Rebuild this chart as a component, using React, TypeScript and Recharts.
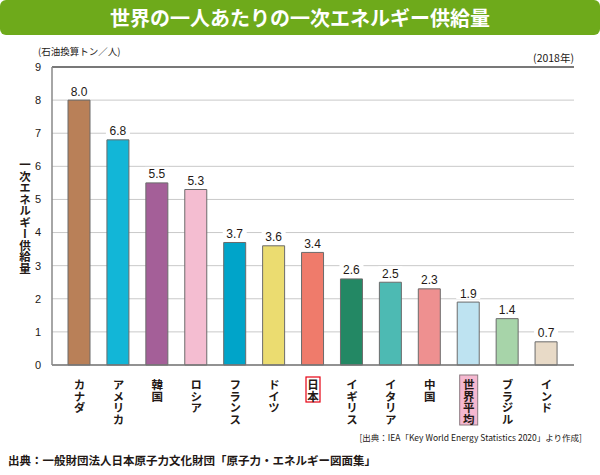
import React from "react";
import {
  BarChart,
  Bar,
  Cell,
  XAxis,
  YAxis,
  CartesianGrid,
  ReferenceLine,
  LabelList,
} from "recharts";

// ── Data ───────────────────────────────────────────────────────────────────

const categories = [
  "カナダ",
  "アメリカ",
  "韓国",
  "ロシア",
  "フランス",
  "ドイツ",
  "日本",
  "イギリス",
  "イタリア",
  "中国",
  "世界平均",
  "ブラジル",
  "インド",
];

const values = [8.0, 6.8, 5.5, 5.3, 3.7, 3.6, 3.4, 2.6, 2.5, 2.3, 1.9, 1.4, 0.7];

const barColors = [
  "#b98058",
  "#12b6d7",
  "#a45f98",
  "#f4bdd1",
  "#00a4c9",
  "#ebdc70",
  "#ef7b6b",
  "#238864",
  "#4dbab3",
  "#ee9090",
  "#bee3f1",
  "#a7d4a9",
  "#e8dac7",
];

const yTicks = [0, 1, 2, 3, 4, 5, 6, 7, 8, 9];

const chartData = categories.map((name, i) => ({ name, value: values[i] }));

// ── Styles ─────────────────────────────────────────────────────────────────

const jpFont = '"Noto Sans CJK JP", "Noto Sans", sans-serif';
const numFont = '"Liberation Sans", Arial, sans-serif';
const textColor = "#231815";

// ── Custom tick: vertical Japanese labels ─────────────────────────────────

function VerticalTick({ x, y, payload }: any) {
  const label: string = payload.value;
  const chars = label.length;
  const pitch = 12;
  return (
    <g>
      {label === "日本" && (
        <rect
          x={x - 7}
          y={y + 4}
          width={14}
          height={chars * pitch + 1}
          fill="#fff"
          stroke="#e60012"
          strokeWidth={1.2}
        />
      )}
      {label === "世界平均" && (
        <rect
          x={x - 9}
          y={y + 2}
          width={18}
          height={chars * pitch + 2}
          fill="#f5b8d0"
          stroke="#8c7a80"
          strokeWidth={1}
        />
      )}
      <text
        x={x}
        y={y + 6}
        style={{ writingMode: "vertical-rl" }}
        fontFamily={jpFont}
        fontSize={11.5}
        fontWeight={700}
        fill={textColor}
      >
        {label}
      </text>
    </g>
  );
}

// ── Value label with white backing ─────────────────────────────────────────

function ValueLabel({ x, y, width, value }: any) {
  const cx = x + width / 2;
  return (
    <g>
      <rect x={cx - 12} y={y - 16} width={24} height={13} fill="#fff" />
      <text
        x={cx}
        y={y - 4.5}
        textAnchor="middle"
        fontFamily={numFont}
        fontSize={12}
        fill={textColor}
      >
        {Number(value).toFixed(1)}
      </text>
    </g>
  );
}

// ── Main Component ─────────────────────────────────────────────────────────

export default function App() {
  return (
    <div
      style={{
        position: "absolute",
        left: 0,
        top: 0,
        width: 600,
        height: 475,
        background: "#fff",
        overflow: "hidden",
      }}
    >
      <BarChart
        width={600}
        height={475}
        data={chartData}
        margin={{ top: 67, right: 26, bottom: 30, left: 0 }}
      >
        <CartesianGrid
          yAxisId="l"
          vertical={false}
          stroke="#c9c9c9"
          strokeWidth={1}
        />
        <XAxis
          dataKey="name"
          interval={0}
          height={80}
          padding={{ left: 8, right: 8 }}
          tickLine={false}
          axisLine={{ stroke: "#777", strokeWidth: 1.5 }}
          tick={<VerticalTick />}
        />
        <YAxis
          yAxisId="l"
          width={52}
          domain={[0, 9]}
          ticks={yTicks}
          interval={0}
          tickLine={false}
          tickMargin={5}
          axisLine={{ stroke: "#888", strokeWidth: 1.5 }}
          tick={{ fill: textColor, fontSize: 11, fontFamily: numFont }}
        />
        <YAxis
          yAxisId="r"
          orientation="right"
          width={0}
          domain={[0, 9]}
          tick={false}
          tickLine={false}
          axisLine={{ stroke: "#999", strokeWidth: 1.5 }}
        />
        <ReferenceLine yAxisId="l" y={9} stroke="#555" strokeWidth={1.3} />
        <Bar
          yAxisId="l"
          dataKey="value"
          barSize={22}
          stroke="#6b6b6b"
          strokeWidth={1}
          isAnimationActive={false}
        >
          {chartData.map((d, i) => (
            <Cell key={d.name} fill={barColors[i]} />
          ))}
          <LabelList dataKey="value" content={<ValueLabel />} />
        </Bar>
      </BarChart>

      {/* Title banner */}
      <div
        style={{
          position: "absolute",
          left: 0,
          top: 0,
          width: 600,
          height: 35,
          background: "#6eaa1b",
          borderRadius: 6,
          color: "#fff",
          fontFamily: jpFont,
          fontWeight: 700,
          fontSize: 20,
          lineHeight: "35px",
          textAlign: "center",
        }}
      >
        世界の一人あたりの一次エネルギー供給量
      </div>

      {/* Unit and year */}
      <div
        style={{
          position: "absolute",
          left: 38,
          top: 44,
          fontFamily: jpFont,
          fontSize: 9.5,
          color: textColor,
        }}
      >
        (石油換算トン／人)
      </div>
      <div
        style={{
          position: "absolute",
          right: 26,
          top: 50,
          fontFamily: jpFont,
          fontSize: 10.5,
          color: textColor,
        }}
      >
        (2018年)
      </div>

      {/* Y axis title */}
      <div
        style={{
          position: "absolute",
          left: 17,
          top: 159,
          writingMode: "vertical-rl",
          fontFamily: jpFont,
          fontSize: 11.5,
          fontWeight: 700,
          color: textColor,
        }}
      >
        一次エネルギー供給量
      </div>

      {/* Source notes */}
      <div
        style={{
          position: "absolute",
          right: 18,
          top: 431,
          fontFamily: jpFont,
          fontSize: 8.5,
          color: textColor,
        }}
      >
        [出典：IEA「Key World Energy Statistics 2020」より作成]
      </div>
      <div
        style={{
          position: "absolute",
          left: 8,
          top: 452,
          fontFamily: jpFont,
          fontSize: 11.5,
          fontWeight: 700,
          color: textColor,
        }}
      >
        出典：一般財団法人日本原子力文化財団「原子力・エネルギー図面集」
      </div>
    </div>
  );
}
